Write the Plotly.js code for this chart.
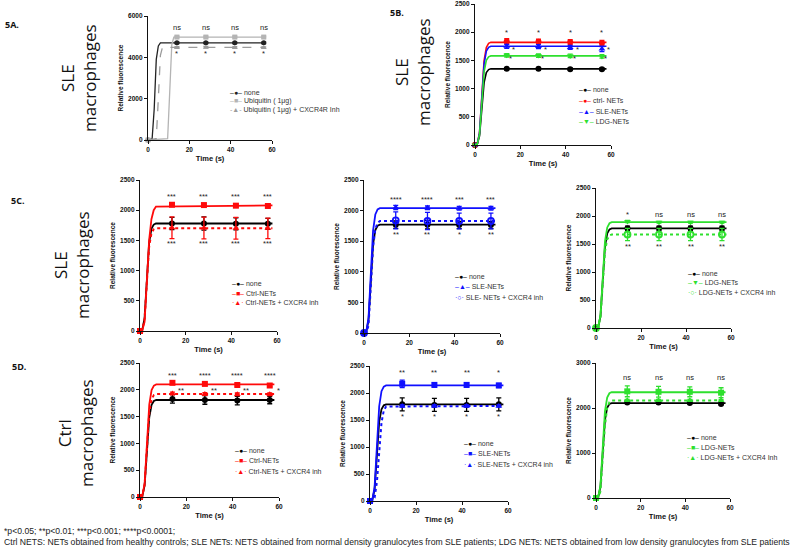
<!DOCTYPE html>
<html>
<head>
<meta charset="utf-8">
<script src="https://cdn.plot.ly/plotly-3.0.1.min.js"></script>
<style>
  html, body { margin: 0; padding: 0; background: #fff; }
  #chart { width: 800px; height: 549px; }
</style>
</head>
<body>
<div id="chart"></div>
<script>
    // sampling times of the measured points (s)
    var time = [0, 14, 28, 42, 56];
    // times used for the fitted curves
    var fitTime = [0, 1, 2, 3, 4, 5, 6, 7, 58];

    // 5A - SLE macrophages, ubiquitin
    var aNone = [0, 4700, 4700, 4700, 4700];
    var aUbq = [0, 4980, 4980, 4980, 4980];
    var aUbqInh = [0, 4480, 4490, 4480, 4470];
    var aErr = [0, 40, 40, 40, 40];
    var aFitNoneT = [0, 2, 3, 4, 5, 6, 56];
    var aFitNone = [0, 60, 1500, 3900, 4550, 4700, 4700];
    var aFitUbqT = [0, 9.5, 10.5, 11.5, 12.5, 56];
    var aFitUbq = [0, 60, 2300, 4600, 4980, 4980];
    var aFitUbqInhT = [0, 4, 5, 6, 7, 56];
    var aFitUbqInh = [0, 60, 2000, 4100, 4480, 4480];
    var aSigTop = ['ns', 'ns', 'ns', 'ns'];
    var aSigLow = ['*', '*', '*', '*'];

    // 5B - SLE macrophages, NETs of each origin
    var bNone = [0, 1350, 1350, 1345, 1345];
    var bCtrl = [0, 1840, 1830, 1825, 1810];
    var bSle = [0, 1750, 1745, 1730, 1700];
    var bLdg = [0, 1590, 1585, 1580, 1570];
    var bErrNone = [0, 20, 20, 20, 20];
    var bErrCtrl = [0, 45, 45, 45, 45];
    var bErrSle = [0, 35, 35, 35, 45];
    var bErrLdg = [0, 30, 30, 30, 30];
    var bFitNone = [0, 14, 162, 675, 1107, 1283, 1337, 1350, 1350];
    var bFitCtrl = [0, 18, 218, 910, 1492, 1729, 1802, 1820, 1820];
    var bFitSle = [0, 18, 210, 875, 1435, 1663, 1733, 1750, 1750];
    var bFitLdg = [0, 16, 190, 790, 1296, 1501, 1564, 1580, 1580];
    var bSigCtrl = ['*', '*', '*', '*'];
    var bSigSle = ['*', '*', '*', '*'];
    var bSigLdg = ['*', '*', '*', '*'];

    // 5C - SLE macrophages + CXCR4 inhibitor
    var cNoneL = [0, 1780, 1780, 1775, 1775];
    var cCtrlL = [0, 2090, 2085, 2075, 2070];
    var cInhL = [0, 1710, 1705, 1700, 1700];
    var cErrNoneL = [0, 100, 110, 100, 90];
    var cErrCtrlL = [0, 25, 20, 25, 25];
    var cErrInhL = [0, 180, 180, 180, 170];
    var cFitNoneL = [0, 18, 214, 890, 1460, 1691, 1762, 1780, 1780];
    var cFitCtrlL = [0, 10, 150, 800, 1500, 1850, 2000, 2060, 2080];
    var cFitInhL = [0, 17, 204, 850, 1394, 1615, 1683, 1700, 1700];
    var cSigTopL = ['***', '***', '***', '***'];
    var cSigLowL = ['***', '***', '***', '***'];

    var cNoneM = [0, 1770, 1770, 1765, 1765];
    var cSleM = [0, 2050, 2045, 2040, 2040];
    var cInhM = [0, 1840, 1830, 1830, 1830];
    var cErrNoneM = [0, 60, 70, 60, 60];
    var cErrSleM = [0, 35, 30, 30, 30];
    var cErrInhM = [0, 140, 140, 130, 130];
    var cFitNoneM = [0, 18, 212, 885, 1451, 1682, 1752, 1770, 1770];
    var cFitSleM = [0, 20, 245, 1020, 1673, 1938, 2020, 2040, 2040];
    var cFitInhM = [0, 10, 120, 700, 1400, 1700, 1800, 1830, 1830];
    var cSigTopM = ['****', '****', '***', '***'];
    var cSigLowM = ['**', '**', '*', '**'];

    var cNoneR = [0, 1780, 1780, 1780, 1780];
    var cLdgR = [0, 1900, 1890, 1890, 1890];
    var cInhR = [0, 1670, 1670, 1670, 1670];
    var cErrNoneR = [0, 40, 40, 40, 40];
    var cErrLdgR = [0, 20, 15, 15, 15];
    var cErrInhR = [0, 110, 110, 110, 110];
    var cFitNoneR = [0, 18, 214, 890, 1460, 1691, 1762, 1780, 1780];
    var cFitLdgR = [0, 19, 227, 945, 1550, 1796, 1871, 1890, 1890];
    var cFitInhR = [0, 17, 200, 835, 1369, 1587, 1653, 1670, 1670];
    var cSigTopR = ['*', 'ns', 'ns', 'ns'];
    var cSigLowR = ['**', '**', '**', '**'];

    // 5D - Ctrl macrophages + CXCR4 inhibitor
    var dNoneL = [0, 1830, 1810, 1800, 1810];
    var dCtrlL = [0, 2130, 2110, 2090, 2080];
    var dInhL = [0, 1930, 1920, 1915, 1915];
    var dErrNoneL = [0, 80, 80, 80, 70];
    var dErrCtrlL = [0, 20, 20, 20, 20];
    var dErrInhL = [0, 25, 25, 25, 25];
    var dFitNoneL = [0, 18, 217, 905, 1484, 1720, 1792, 1810, 1810];
    var dFitCtrlL = [0, 21, 252, 1050, 1722, 1995, 2079, 2100, 2100];
    var dFitInhL = [0, 19, 230, 960, 1574, 1824, 1901, 1920, 1920];
    var dSigTopL = ['***', '****', '****', '****'];
    var dSigInhL = ['**', '**', '**', '*'];

    var dNoneM = [0, 1790, 1780, 1780, 1790];
    var dSleM = [0, 2170, 2150, 2150, 2140];
    var dInhM = [0, 1760, 1760, 1760, 1760];
    var dErrNoneM = [0, 120, 120, 120, 120];
    var dErrSleM = [0, 70, 40, 40, 40];
    var dErrInhM = [0, 20, 20, 20, 20];
    var dFitNoneM = [0, 18, 215, 895, 1468, 1700, 1772, 1790, 1790];
    var dFitSleM = [0, 21, 257, 1070, 1755, 2033, 2119, 2140, 2140];
    var dFitInhM = [0, 5, 60, 350, 900, 1450, 1680, 1750, 1760];
    var dSigTopM = ['**', '**', '**', '*'];
    var dSigLowM = ['*', '*', '*', '*'];

    var dNoneR = [0, 2120, 2120, 2110, 2090];
    var dLdgR = [0, 2370, 2360, 2360, 2340];
    var dInhR = [0, 2170, 2170, 2170, 2170];
    var dErrNoneR = [0, 20, 20, 20, 20];
    var dErrLdgR = [0, 120, 120, 110, 110];
    var dErrInhR = [0, 20, 20, 20, 20];
    var dFitNoneR = [0, 21, 253, 1055, 1730, 2005, 2089, 2110, 2110];
    var dFitLdgR = [0, 24, 282, 1175, 1927, 2233, 2327, 2350, 2350];
    var dFitInhR = [0, 10, 150, 800, 1600, 2000, 2130, 2165, 2170];
    var dSigTopR = ['ns', 'ns', 'ns', 'ns'];

    var W = 800, H = 549;
    var FONT = 'Liberation Sans, Arial, sans-serif';
    var BLACK = '#000000', RED = '#ff0a0a', BLUE = '#1010ff', GREEN = '#2ee02e';
    var GREY = '#9c9c9c', LGREY = '#b4b4b4';

    function px(v) { return v / W; }
    function py(v) { return 1 - v / H; }

    function ser(name, pts, err, fitT, fit, color, symbol, dash, glyph) {
        return { name: name, pts: pts, err: err, fitT: fitT, fit: fit,
                 color: color, symbol: symbol, dash: dash, glyph: glyph };
    }

    // box = [x of t=0, x of t=60, y of top tick, y of zero] in pixels
    var panels = [
        { box: [148, 272, 16, 140], yMax: 6000, dtick: 2000, leg: [228, 92, 9], lw: 1.3,
          series: [
            ser('none', aNone, aErr, aFitNoneT, aFitNone, '#222', 'circle', 'solid', '–●–'),
            ser('Ubiquitin ( 1μg)', aUbq, aErr, aFitUbqT, aFitUbq, LGREY, 'square', 'solid', '–■–'),
            ser('Ubiquitin ( 1μg) + CXCR4R Inh', aUbqInh, aErr, aFitUbqInhT, aFitUbqInh, GREY, 'triangle-up', 'dash', '-▲-')
          ],
          sig: [{ text: aSigTop, y: 5420, dx: 0 }, { text: aSigLow, y: 4200, dx: 0 }] },
        { box: [475, 611, 4, 145], yMax: 2500, dtick: 500, leg: [577, 90, 10.5], lw: 1.6,
          series: [
            ser('none', bNone, bErrNone, fitTime, bFitNone, BLACK, 'circle', 'solid', '–●–'),
            ser('ctrl- NETs', bCtrl, bErrCtrl, fitTime, bFitCtrl, RED, 'circle', 'solid', '–●–'),
            ser('SLE-NETs', bSle, bErrSle, fitTime, bFitSle, BLUE, 'triangle-up', 'solid', '–▲–'),
            ser('LDG-NETs', bLdg, bErrLdg, fitTime, bFitLdg, GREEN, 'triangle-down', 'solid', '–▼–')
          ],
          sig: [{ text: bSigCtrl, y: 1990, dx: 0 }, { text: bSigSle, y: 1690, dx: 7 },
                { text: bSigLdg, y: 1540, dx: 4 }] },
        { box: [140, 277, 180, 331], yMax: 2500, dtick: 500, leg: [230, 283, 10], lw: 1.8,
          series: [
            ser('none', cNoneL, cErrNoneL, fitTime, cFitNoneL, BLACK, 'circle', 'solid', '–●–'),
            ser('Ctrl-NETs', cCtrlL, cErrCtrlL, fitTime, cFitCtrlL, RED, 'square', 'solid', '–■–'),
            ser('Ctrl-NETs + CXCR4 inh', cInhL, cErrInhL, fitTime, cFitInhL, RED, 'triangle-up', 'dot', '·▲·')
          ],
          sig: [{ text: cSigTopL, y: 2220, dx: 0 }, { text: cSigLowL, y: 1450, dx: 0 }] },
        { box: [364, 500, 180, 333], yMax: 2500, dtick: 500, leg: [453, 276, 10.5], lw: 1.8,
          series: [
            ser('none', cNoneM, cErrNoneM, fitTime, cFitNoneM, BLACK, 'circle', 'solid', '–●–'),
            ser('SLE-NETs', cSleM, cErrSleM, fitTime, cFitSleM, BLUE, 'triangle-up', 'solid', '–▲–'),
            ser('SLE- NETs + CXCR4 inh', cInhM, cErrInhM, fitTime, cFitInhM, BLUE, 'circle-open', 'dot', '·○·')
          ],
          sig: [{ text: cSigTopM, y: 2175, dx: 0 }, { text: cSigLowM, y: 1610, dx: 0 }] },
        { box: [596, 731, 188, 328], yMax: 2500, dtick: 500, leg: [686, 273, 9.5], lw: 1.8,
          series: [
            ser('none', cNoneR, cErrNoneR, fitTime, cFitNoneR, BLACK, 'circle', 'solid', '–●–'),
            ser('LDG-NETs', cLdgR, cErrLdgR, fitTime, cFitLdgR, GREEN, 'triangle-down', 'solid', '–▼–'),
            ser('LDG-NETs + CXCR4 inh', cInhR, cErrInhR, fitTime, cFitInhR, GREEN, 'circle-open', 'dot', '·○·')
          ],
          sig: [{ text: cSigTopR, y: 2020, dx: 0 }, { text: cSigLowR, y: 1460, dx: 0 }] },
        { box: [140, 279, 363, 497], yMax: 2500, dtick: 500, leg: [233, 450, 10.5], lw: 1.8,
          series: [
            ser('none', dNoneL, dErrNoneL, fitTime, dFitNoneL, BLACK, 'circle', 'solid', '–●–'),
            ser('Ctrl-NETs', dCtrlL, dErrCtrlL, fitTime, dFitCtrlL, RED, 'square', 'solid', '–■–'),
            ser('Ctrl-NETs + CXCR4 inh', dInhL, dErrInhL, fitTime, dFitInhL, RED, 'triangle-up', 'dot', '·▲·')
          ],
          sig: [{ text: dSigTopL, y: 2260, dx: 0 }, { text: dSigInhL, y: 1980, dx: 9 }] },
        { box: [370, 508, 366, 501], yMax: 2500, dtick: 500, leg: [462, 443, 10.5], lw: 1.8,
          series: [
            ser('none', dNoneM, dErrNoneM, fitTime, dFitNoneM, BLACK, 'circle', 'solid', '–●–'),
            ser('SLE-NETs', dSleM, dErrSleM, fitTime, dFitSleM, BLUE, 'square', 'solid', '–■–'),
            ser('SLE-NETs + CXCR4 inh', dInhM, dErrInhM, fitTime, dFitInhM, BLUE, 'triangle-up', 'dot', '·▲·')
          ],
          sig: [{ text: dSigTopM, y: 2380, dx: 0 }, { text: dSigLowM, y: 1570, dx: 0 }] },
        { box: [596, 730, 363, 498], yMax: 3000, dtick: 1000, leg: [685, 437, 10], lw: 1.8,
          series: [
            ser('none', dNoneR, dErrNoneR, fitTime, dFitNoneR, BLACK, 'circle', 'solid', '–●–'),
            ser('LDG-NETs', dLdgR, dErrLdgR, fitTime, dFitLdgR, GREEN, 'square', 'solid', '–■–'),
            ser('LDG-NETs + CXCR4 Inh', dInhR, dErrInhR, fitTime, dFitInhR, GREEN, 'triangle-up', 'dot', '·▲·')
          ],
          sig: [{ text: dSigTopR, y: 2670, dx: 0 }] }
    ];

    var traces = [];
    var annotations = [];
    var layout = {
        width: W, height: H,
        margin: { t: 0, r: 0, b: 0, l: 0 },
        paper_bgcolor: '#fff', plot_bgcolor: 'rgba(0,0,0,0)',
        showlegend: false,
        font: { family: FONT, color: '#111' }
    };

    panels.forEach(function(p, i) {
        var s = i === 0 ? '' : String(i + 1);
        var b = p.box;
        var axisBase = {
            showline: true, linecolor: '#111', linewidth: 1.2,
            ticks: 'outside', ticklen: 3, tickwidth: 1, tickcolor: '#111',
            showgrid: false, zeroline: false, fixedrange: true,
            tickfont: { size: 6.5, family: FONT, weight: 'bold', color: '#111' }
        };
        layout['xaxis' + s] = Object.assign({}, axisBase, {
            domain: [px(b[0]), px(b[1])], range: [0, 60], tick0: 0, dtick: 20,
            anchor: 'y' + s,
            title: { text: 'Time (s)', font: { size: 7.5, weight: 'bold' }, standoff: 3 }
        });
        layout['yaxis' + s] = Object.assign({}, axisBase, {
            domain: [py(b[3]), py(b[2])], range: [0, p.yMax], tick0: 0, dtick: p.dtick,
            anchor: 'x' + s,
            title: { text: 'Relative fluorescence', font: { size: 6.5, weight: 'bold' }, standoff: 3 }
        });

        p.series.forEach(function(se) {
            traces.push({
                x: se.fitT, y: se.fit, xaxis: 'x' + s, yaxis: 'y' + s,
                type: 'scatter', mode: 'lines', hoverinfo: 'skip', cliponaxis: false,
                line: { color: se.color, width: se.dash === 'dot' ? 2 : p.lw, dash: se.dash }
            });
            var open = se.symbol.indexOf('open') >= 0;
            traces.push({
                x: time, y: se.pts, xaxis: 'x' + s, yaxis: 'y' + s,
                type: 'scatter', mode: 'markers', name: se.name, cliponaxis: false,
                marker: { symbol: se.symbol, size: i === 0 ? 5 : 6, color: se.color,
                          line: { color: se.color, width: open ? 1.8 : 0 } },
                error_y: { type: 'data', array: se.err, visible: true,
                           color: se.color, thickness: 1.3, width: 2.5 }
            });
        });

        p.sig.forEach(function(row) {
            row.text.forEach(function(txt, k) {
                annotations.push({
                    xref: 'x' + s, yref: 'y' + s, x: time[k + 1], y: row.y,
                    xanchor: 'center', yanchor: 'middle',
                    text: txt, showarrow: false, xshift: row.dx,
                    font: { size: 7.5, color: '#222' }
                });
            });
        });

        // compact legend, one text line per series
        p.series.forEach(function(se, k) {
            annotations.push({
                xref: 'paper', yref: 'paper', x: px(p.leg[0]), y: py(p.leg[1] + k * p.leg[2]),
                xanchor: 'left', yanchor: 'middle', showarrow: false,
                text: '<span style="color:' + se.color + '">' + se.glyph + '</span> ' + se.name,
                font: { size: 7, color: '#333' }
            });
        });
    });

    // panel letters and row labels
    var panelTags = ['5A.', '5B.', '5C.', '5D.'];
    var tagPos = [[3, 25], [388, 12], [9, 200], [10, 366]];
    panelTags.forEach(function(t, k) {
        annotations.push({ xref: 'paper', yref: 'paper', x: px(tagPos[k][0]), y: py(tagPos[k][1]),
            xanchor: 'left', yanchor: 'middle', showarrow: false, text: '<b>' + t + '</b>',
            font: { size: 9, family: 'Open Sans, sans-serif', color: '#111' } });
    });
    var rowLabels = ['SLE<br>macrophages', 'SLE<br>macrophages', 'SLE<br>macrophages', 'Ctrl<br>macrophages'];
    var rowPos = [[79, 78], [412, 72], [71, 265], [75, 433]];
    rowLabels.forEach(function(t, k) {
        annotations.push({ xref: 'paper', yref: 'paper', x: px(rowPos[k][0]), y: py(rowPos[k][1]),
            xanchor: 'center', yanchor: 'middle',
            showarrow: false, text: t, textangle: -90,
            font: { size: 17, family: 'Open Sans, sans-serif', color: '#111' } });
    });

    var notes = ['*p<0.05; **p<0.01; ***p<0.001; ****p<0.0001;',
        'Ctrl NETS: NETs obtained from healthy controls; SLE NETs: NETS obtained from normal density granulocytes from SLE patients; LDG NETs: NETS obtained from low density granulocytes from SLE patients'];
    notes.forEach(function(t, k) {
        annotations.push({ xref: 'paper', yref: 'paper', x: px(2), y: py(531 + k * 11),
            xanchor: 'left', yanchor: 'middle', showarrow: false, text: t,
            font: { size: 8.65, family: FONT, color: '#222' } });
    });

    layout.annotations = annotations;

    Plotly.newPlot('chart', traces, layout, { displayModeBar: false, staticPlot: true });
</script>
</body>
</html>
